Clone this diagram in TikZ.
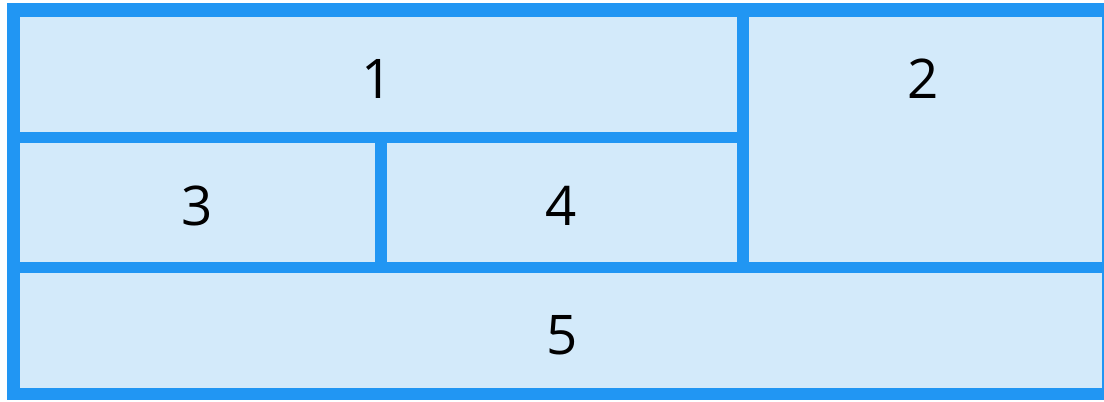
\documentclass[tikz,border=0pt]{standalone}
\usepackage{fontspec}
\setmainfont{Open Sans}
\definecolor{gridblue}{RGB}{33,150,243}
\definecolor{cellfill}{RGB}{211,234,250}
\tikzset{
  cell/.style={fill=cellfill},
  lbl/.style={inner sep=0pt, font=\fontsize{41}{48}\selectfont, text=black}
}
\begin{document}
\begin{tikzpicture}[x=0.75pt, y=-0.75pt]
\useasboundingbox (0,0) rectangle (1104,402);
\fill[white] (0,0) rectangle (1104,402);
% outer blue frame
\fill[gridblue] (7,3.5) rectangle (1104,400);
% cells
\fill[cell] (19.5,16.7) rectangle (736.7,131.7);
\fill[cell] (749,16.7) rectangle (1101.5,261.7);
\fill[cell] (19.5,143.3) rectangle (375,261.7);
\fill[cell] (386.7,143.3) rectangle (736.7,261.7);
\fill[cell] (19.5,273.3) rectangle (1101.5,388);
% labels
\node[lbl] (l1) at (377,79) {1};
\node[lbl] (l2) at (923,79) {2};
\node[lbl] (l3) at (197,206) {3};
\node[lbl] (l4) at (561,206) {4};
\node[lbl] (l5) at (562,335) {5};
\end{tikzpicture}
\end{document}
